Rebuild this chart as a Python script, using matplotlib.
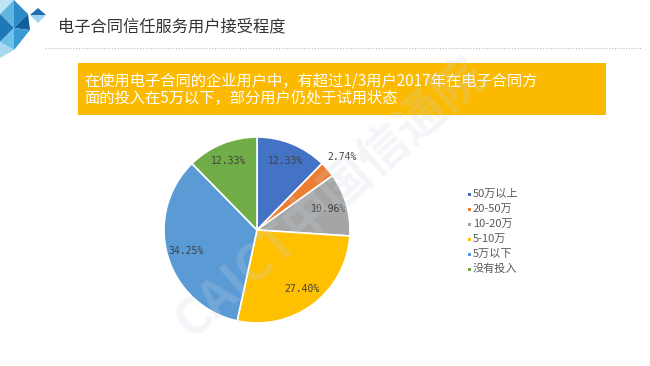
import matplotlib
matplotlib.use("Agg")
import matplotlib.pyplot as plt
from matplotlib.patches import Rectangle, Polygon
from matplotlib.lines import Line2D

plt.rcParams['font.family'] = ['Noto Sans CJK SC', 'DejaVu Sans']

# ---- data ----
categories = ["50万以上", "20-50万", "10-20万", "5-10万", "5万以下", "没有投入"]
values = [12.33, 2.74, 10.96, 27.40, 34.25, 12.33]
colors = ["#4472C4", "#ED7D31", "#A5A5A5", "#FFC000", "#5B9BD5", "#70AD47"]
title = "电子合同信任服务用户接受程度"
headline = ["在使用电子合同的企业用户中，有超过1/3用户2017年在电子合同方",
            "面的投入在5万以下，部分用户仍处于试用状态"]

W, H = 650, 366
fig = plt.figure(figsize=(W / 100, H / 100), dpi=100)
fig.patch.set_facecolor("white")


def fx(x):
    return x / W


def fy(y):
    return 1 - y / H


# ---- top-left decoration ----
deco = [
    ([(0, 0), (14, 0), (0, 14)], "#BFE3F5"),
    ([(0, 14), (14, 0), (14, 28)], "#5FB4E0"),
    ([(14, 0), (28, 14), (14, 28)], "#2E8BC9"),
    ([(0, 14), (14, 28), (0, 42)], "#1F78B8"),
    ([(14, 28), (28, 14), (30, 30)], "#0F5E9E"),
    ([(0, 42), (14, 28), (14, 50)], "#6FC0E6"),
    ([(14, 28), (30, 30), (14, 50)], "#3A9AD6"),
    ([(0, 42), (14, 50), (0, 58)], "#A8D8F0"),
    ([(38, 8), (46, 15), (30, 15)], "#1C6FB0"),
    ([(30, 15), (46, 15), (38, 23)], "#9FD3EE"),
]
for pts, c in deco:
    fig.patches.append(Polygon([(fx(x), fy(y)) for x, y in pts], closed=True,
                               transform=fig.transFigure, facecolor=c,
                               edgecolor="none"))

# ---- title ----
fig.text(fx(58), fy(27), title, fontsize=11.7, color="#333333",
         va="center", ha="left")
fig.add_artist(Line2D([fx(45), fx(642)], [fy(47.5), fy(47.5)],
                      transform=fig.transFigure, color="#BBBBBB",
                      linestyle=(0, (1, 1.5)), linewidth=0.8))

# ---- headline box ----
fig.patches.append(Rectangle((fx(78), fy(115)), fx(606) - fx(78), fy(63) - fy(115),
                             transform=fig.transFigure, facecolor="#FBBA00",
                             edgecolor="none"))
fig.text(fx(84), fy(81), headline[0], fontsize=11, color="white", va="center", ha="left")
fig.text(fx(84), fy(98.5), headline[1], fontsize=11, color="white", va="center", ha="left")

# ---- pie ----
cx, cy, r = 257, 230, 93
ax = fig.add_axes([fx(cx - r), fy(cy + r), 2 * r / W, 2 * r / H])
wedges, texts, autotexts = ax.pie(
    values, colors=colors, startangle=90, counterclock=False,
    autopct="%.2f%%", pctdistance=0.80,
    wedgeprops=dict(edgecolor="white", linewidth=1.2),
    textprops=dict(fontsize=7, color="#404040", family="DejaVu Sans Mono"))
ax.set_xlim(-1, 1)
ax.set_ylim(-1, 1)
ax.set_aspect("auto")
ax.axis("off")
# small slice label sits outside
x0, y0 = autotexts[1].get_position()
autotexts[1].set_position((x0 / 0.80 * 1.20, y0 / 0.80 * 1.20))

# ---- legend ----
for i, (lab, c) in enumerate(zip(categories, colors)):
    yy = 194 + i * 15
    fig.patches.append(Rectangle((fx(467.5), fy(yy + 1.5)), 3 / W, 3 / H,
                                 transform=fig.transFigure, facecolor=c,
                                 edgecolor="none"))
    fig.text(fx(473), fy(yy), lab, fontsize=8, color="#595959",
             va="center", ha="left")

# ---- watermark ----
fig.text(fx(330), fy(198), "CAICT中国信通院", fontsize=36, fontweight="bold",
         color="#C9D4DF", alpha=0.22, rotation=41.5, ha="center", va="center",
         rotation_mode="anchor", zorder=10)

fig.savefig("out.png", dpi=100, facecolor="white")
